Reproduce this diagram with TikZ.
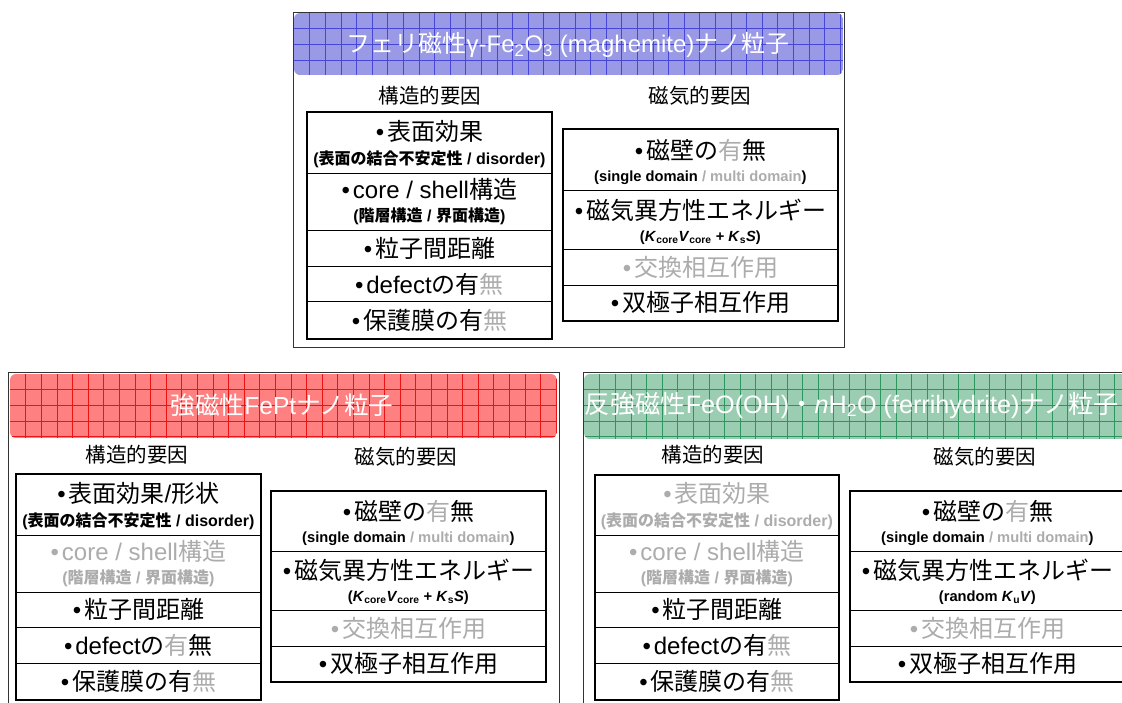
\documentclass[tikz,border=0pt]{standalone}
\usepackage{fontspec}
\setmainfont{Liberation Sans}
\newfontfamily\jpfont{Noto Sans CJK JP}
\newfontfamily\latinfont{Liberation Sans}
\newXeTeXintercharclass\jpclass
\newcount\jpcnt
\jpcnt="3000
\loop
  \XeTeXcharclass\jpcnt=\jpclass
  \advance\jpcnt by 1
\ifnum\jpcnt<"3100 \repeat
\jpcnt="4E00
\loop
  \XeTeXcharclass\jpcnt=\jpclass
  \advance\jpcnt by 1
\ifnum\jpcnt<"A000 \repeat
\jpcnt="FF00
\loop
  \XeTeXcharclass\jpcnt=\jpclass
  \advance\jpcnt by 1
\ifnum\jpcnt<"FFF0 \repeat
\XeTeXinterchartoks 0 \jpclass = {\jpfont}
\XeTeXinterchartoks 4095 \jpclass = {\jpfont}
\XeTeXinterchartoks \jpclass 0 = {\latinfont}
\XeTeXinterchartoks \jpclass 4095 = {\latinfont}
\XeTeXinterchartokenstate=1
\definecolor{lg}{RGB}{172,172,172}
\definecolor{bluef}{RGB}{153,153,230}
\definecolor{blueg}{RGB}{70,70,215}
\definecolor{redf}{RGB}{255,128,128}
\definecolor{redg}{RGB}{235,20,20}
\definecolor{greenf}{RGB}{155,205,178}
\definecolor{greeng}{RGB}{45,150,95}
\newcommand\gy[1]{\textcolor{lg}{#1}}
\newcommand\bu{•\kern0.12em}
\newcommand\rowcell[5]{\node[cell, minimum width=#4, minimum height=#5] (#1) at (#2,#3) {};}
\tikzset{
  panel/.style={draw=black!80, line width=0.9pt},
  cell/.style={draw=black, line width=0.8pt, inner sep=0pt, anchor=north west},
  outer/.style={draw=black, line width=2pt},
  big/.style={font=\fontsize{24}{26}\selectfont, inner sep=0pt},
  subj/.style={font=\bfseries\fontsize{16}{18}\selectfont, inner sep=0pt},
  subl/.style={font=\bfseries\fontsize{14.7}{17}\selectfont, inner sep=0pt},
  hd/.style={font=\fontsize{20.5}{22}\selectfont, inner sep=0pt},
  ttl/.style={font=\fontsize{24}{26}\selectfont, text=white, inner sep=0pt},
}
\begin{document}
\begin{tikzpicture}[x=1pt,y=-1pt]
\useasboundingbox (0,0) rectangle (1122,702);
\clip (0,0) rectangle (1122,702);
\fill[white] (0,0) rectangle (1122,702);

% ---------- panel frames ----------
\draw[panel] (293,12) rectangle (844,347);
\draw[panel] (8,372) rectangle (559,730);
\draw[panel] (583,372) rectangle (1140,730);

% ---------- headers ----------
\begin{scope}
\clip[rounded corners=6pt] (294,13) rectangle (843,75);
\fill[bluef] (294,13) rectangle (843,75);
\foreach \i in {1,...,36} \draw[blueg, line width=0.6pt] ({294+15.6*\i},13) -- ++(0,62);
\foreach \j in {1,...,3} \draw[blueg, line width=0.6pt] (294,{13+15.6*\j}) -- ++(549,0);
\end{scope}
\begin{scope}
\clip[rounded corners=6pt] (10,374) rectangle (557,438);
\fill[redf] (10,374) rectangle (557,438);
\foreach \i in {1,...,36} \draw[redg, line width=0.6pt] ({10+15.6*\i},374) -- ++(0,64);
\foreach \j in {1,...,4} \draw[redg, line width=0.6pt] (10,{374+15.6*\j}) -- ++(547,0);
\end{scope}
\begin{scope}
\clip[rounded corners=6pt] (584,374) rectangle (1135,439);
\fill[greenf] (584,374) rectangle (1135,439);
\foreach \i in {1,...,36} \draw[greeng, line width=0.6pt] ({584+15.6*\i},374) -- ++(0,65);
\foreach \j in {1,...,4} \draw[greeng, line width=0.6pt] (584,{374+15.6*\j}) -- ++(551,0);
\end{scope}
\node[ttl] (title1) at (568,45) {フェリ磁性γ-Fe\textsubscript{2}O\textsubscript{3} (maghemite)ナノ粒子};
\node[ttl, font=\fontsize{24.6}{26}\selectfont] (title2) at (282,405) {強磁性FePtナノ粒子};
\node[ttl, font=\fontsize{25.2}{27}\selectfont] (title3) at (852,405) {反強磁性FeO(OH)・\textit{n}H\textsubscript{2}O (ferrihydrite)ナノ粒子};

% ---------- column headings ----------
\node[hd] (h1) at (430,96) {構造的要因};
\node[hd] (h2) at (700,96) {磁気的要因};
\node[hd] (h3) at (137,455) {構造的要因};
\node[hd] (h4) at (406,457) {磁気的要因};
\node[hd] (h5) at (713,455) {構造的要因};
\node[hd] (h6) at (985,457) {磁気的要因};

% ---------- top-left table ----------
\rowcell{tl1}{307}{112}{244}{61}
\rowcell{tl2}{307}{173}{244}{57}
\rowcell{tl3}{307}{230}{244}{36}
\rowcell{tl4}{307}{266}{244}{35}
\rowcell{tl5}{307}{301}{244}{37}
\draw[outer] (tl1.north west) rectangle (tl5.south east);
\node[big] (tl1a) at ([yshift=-19pt]tl1.north) {\bu 表面効果};
\node[subj] (tl1b) at ([yshift=-47pt]tl1.north) {(表面の結合不安定性 / disorder)};
\node[big] (tl2a) at ([yshift=-16pt]tl2.north) {\bu core / shell構造};
\node[subj] (tl2b) at ([yshift=-43pt]tl2.north) {(階層構造 / 界面構造)};
\node[big] (tl3a) at (tl3) {\bu 粒子間距離};
\node[big] (tl4a) at (tl4) {\bu defectの有\gy{無}};
\node[big] (tl5a) at (tl5) {\bu 保護膜の有\gy{無}};

% ---------- top-right table ----------
\rowcell{tr1}{563}{129}{274}{61}
\rowcell{tr2}{563}{190}{274}{59}
\rowcell{tr3}{563}{249}{274}{36}
\rowcell{tr4}{563}{285}{274}{35}
\draw[outer] (tr1.north west) rectangle (tr4.south east);
\node[big] (tr1a) at ([yshift=-21pt]tr1.north) {\bu 磁壁の\gy{有}無};
\node[subl] (tr1b) at ([yshift=-49pt]tr1.north) {(single domain \gy{/ multi domain})};
\node[big] (tr2a) at ([yshift=-20pt]tr2.north) {\bu 磁気異方性エネルギー};
\node[subl] (tr2b) at ([yshift=-48pt]tr2.north) {(\textit{K}\textsubscript{core}\textit{V}\textsubscript{core} + \textit{K}\textsubscript{s}\textit{S})};
\node[big, text=lg] (tr3a) at (tr3) {\bu 交換相互作用};
\node[big] (tr4a) at (tr4) {\bu 双極子相互作用};

% ---------- bottom-left: structure ----------
\rowcell{bl1}{16}{474}{244}{61}
\rowcell{bl2}{16}{535}{244}{57}
\rowcell{bl3}{16}{592}{244}{35}
\rowcell{bl4}{16}{627}{244}{36}
\rowcell{bl5}{16}{663}{244}{36}
\draw[outer] (bl1.north west) rectangle (bl5.south east);
\node[big] (bl1a) at ([yshift=-19pt]bl1.north) {\bu 表面効果/形状};
\node[subj] (bl1b) at ([yshift=-47pt]bl1.north) {(表面の結合不安定性 / disorder)};
\node[big, text=lg] (bl2a) at ([yshift=-16pt]bl2.north) {\bu core / shell構造};
\node[subj, text=lg] (bl2b) at ([yshift=-43pt]bl2.north) {(階層構造 / 界面構造)};
\node[big] (bl3a) at (bl3) {\bu 粒子間距離};
\node[big] (bl4a) at (bl4) {\bu defectの\gy{有}無};
\node[big] (bl5a) at (bl5) {\bu 保護膜の有\gy{無}};

% ---------- bottom-left: magnetic ----------
\rowcell{bm1}{271}{491}{274}{60}
\rowcell{bm2}{271}{551}{274}{59}
\rowcell{bm3}{271}{610}{274}{36}
\rowcell{bm4}{271}{646}{274}{35}
\draw[outer] (bm1.north west) rectangle (bm4.south east);
\node[big] (bm1a) at ([yshift=-20pt]bm1.north) {\bu 磁壁の\gy{有}無};
\node[subl] (bm1b) at ([yshift=-48pt]bm1.north) {(single domain \gy{/ multi domain})};
\node[big] (bm2a) at ([yshift=-19pt]bm2.north) {\bu 磁気異方性エネルギー};
\node[subl] (bm2b) at ([yshift=-47pt]bm2.north) {(\textit{K}\textsubscript{core}\textit{V}\textsubscript{core} + \textit{K}\textsubscript{s}\textit{S})};
\node[big, text=lg] (bm3a) at (bm3) {\bu 交換相互作用};
\node[big] (bm4a) at (bm4) {\bu 双極子相互作用};

% ---------- bottom-right: structure ----------
\rowcell{br1}{595}{475}{243}{60}
\rowcell{br2}{595}{535}{243}{57}
\rowcell{br3}{595}{592}{243}{35}
\rowcell{br4}{595}{627}{243}{36}
\rowcell{br5}{595}{663}{243}{36}
\draw[outer] (br1.north west) rectangle (br5.south east);
\node[big, text=lg] (br1a) at ([yshift=-18pt]br1.north) {\bu 表面効果};
\node[subj, text=lg] (br1b) at ([yshift=-46pt]br1.north) {(表面の結合不安定性 / disorder)};
\node[big, text=lg] (br2a) at ([yshift=-16pt]br2.north) {\bu core / shell構造};
\node[subj, text=lg] (br2b) at ([yshift=-43pt]br2.north) {(階層構造 / 界面構造)};
\node[big] (br3a) at (br3) {\bu 粒子間距離};
\node[big] (br4a) at (br4) {\bu defectの有\gy{無}};
\node[big] (br5a) at (br5) {\bu 保護膜の有\gy{無}};

% ---------- bottom-right: magnetic ----------
\rowcell{bn1}{850}{491}{274}{60}
\rowcell{bn2}{850}{551}{274}{59}
\rowcell{bn3}{850}{610}{274}{36}
\rowcell{bn4}{850}{646}{274}{35}
\draw[outer] (bn1.north west) rectangle (bn4.south east);
\node[big] (bn1a) at ([yshift=-20pt]bn1.north) {\bu 磁壁の\gy{有}無};
\node[subl] (bn1b) at ([yshift=-48pt]bn1.north) {(single domain \gy{/ multi domain})};
\node[big] (bn2a) at ([yshift=-19pt]bn2.north) {\bu 磁気異方性エネルギー};
\node[subl] (bn2b) at ([yshift=-47pt]bn2.north) {(random \textit{K}\textsubscript{u}\textit{V})};
\node[big, text=lg] (bn3a) at (bn3) {\bu 交換相互作用};
\node[big] (bn4a) at (bn4) {\bu 双極子相互作用};
\end{tikzpicture}
\end{document}
